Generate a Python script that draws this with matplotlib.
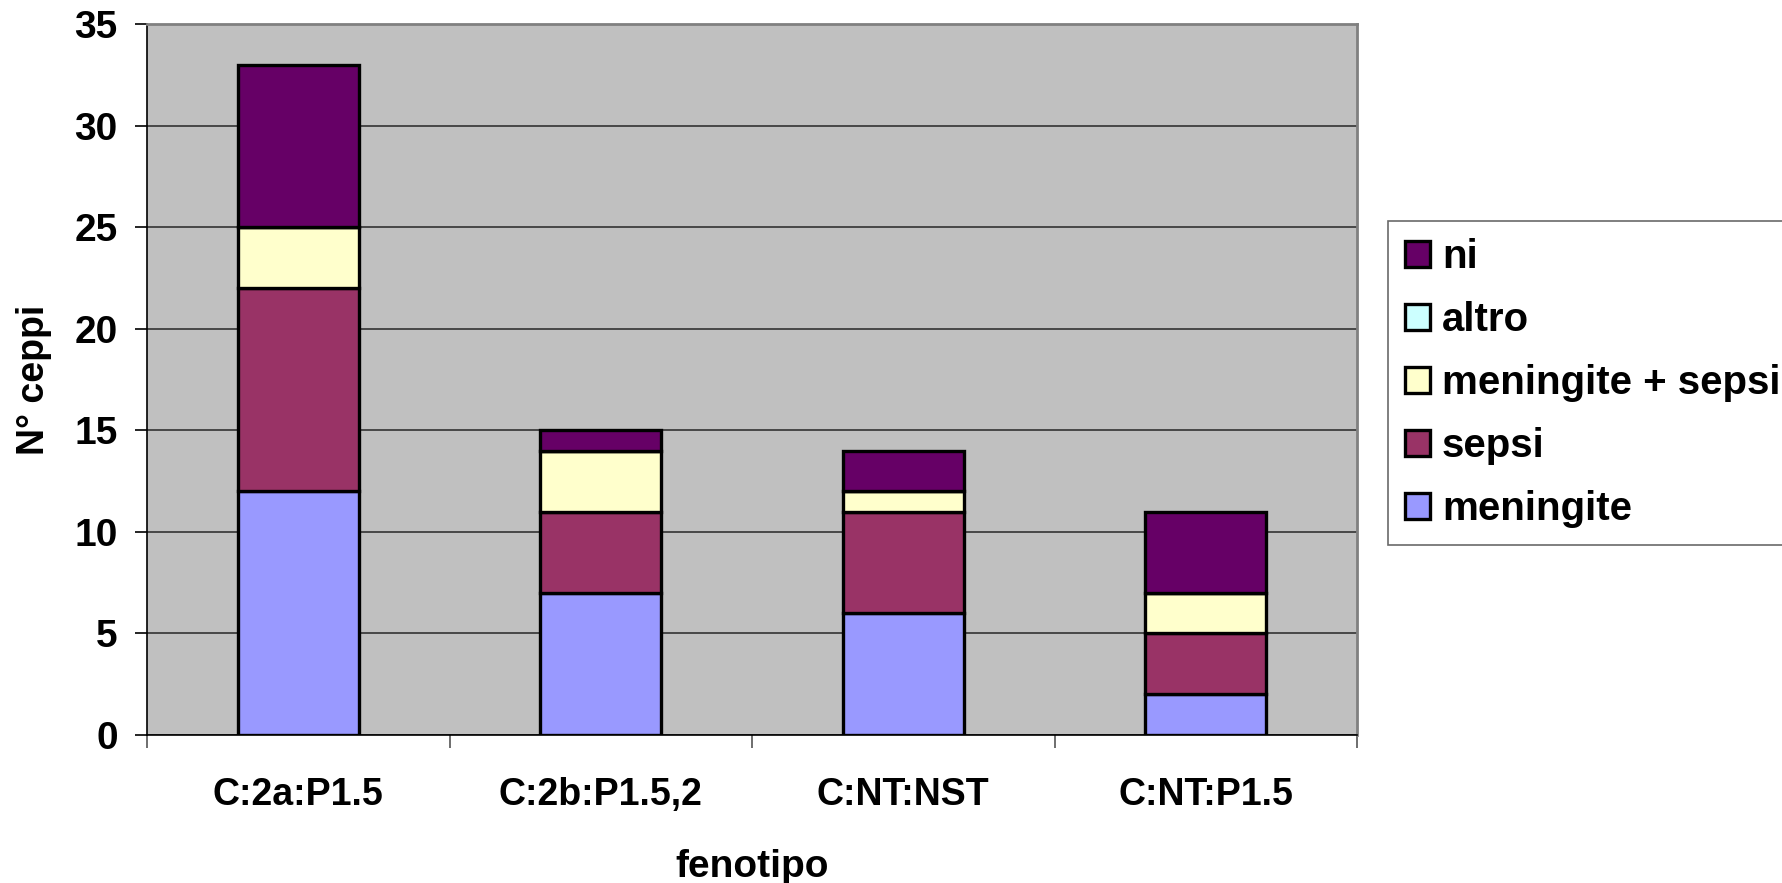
import matplotlib
matplotlib.use("Agg")
import matplotlib.pyplot as plt
import numpy as np

plt.rcParams['font.family'] = ['Liberation Sans', 'DejaVu Sans']
plt.rcParams['font.weight'] = 'bold'

# counts per phenotype, stacked bottom to top
fenotipi = ['C:2a:P1.5', 'C:2b:P1.5,2', 'C:NT:NST', 'C:NT:P1.5']
meningite = [12, 7, 6, 2]
sepsi = [10, 4, 5, 3]
meningite_sepsi = [3, 3, 1, 2]
altro = [0, 0, 0, 0]
ni = [8, 1, 2, 4]

serie = [
    ('meningite', meningite, '#9999FF'),
    ('sepsi', sepsi, '#993366'),
    ('meningite + sepsi', meningite_sepsi, '#FFFFCC'),
    ('altro', altro, '#CCFFFF'),
    ('ni', ni, '#660066'),
]

fig = plt.figure(figsize=(17.82, 8.83), dpi=100)
ax = fig.add_axes([147 / 1782, 1 - 735 / 883, 1210 / 1782, 711 / 883])
ax.set_facecolor('#C0C0C0')

x = np.arange(len(fenotipi))
bottom = np.zeros(len(fenotipi))
handles = []
for nome, valori, colore in serie:
    b = ax.bar(x, valori, width=0.4, bottom=bottom, color=colore,
               edgecolor='black', linewidth=2.4, label=nome, zorder=3)
    handles.append(b)
    bottom += np.array(valori)

ax.set_ylim(0, 35)
ax.set_xlim(-0.5, 3.5)
ax.set_yticks(np.arange(0, 36, 5))
ax.yaxis.grid(True, color='#333333', linewidth=1.2, zorder=1)
ax.set_axisbelow(True)

# category labels in the middle, tick marks between categories
ax.set_xticks(x)
ax.set_xticklabels(fenotipi)
ax.set_xticks(np.arange(-0.5, 4, 1), minor=True)
ax.tick_params(axis='x', which='major', length=0, pad=30, labelsize=27)
ax.tick_params(axis='x', which='minor', length=9, width=1.2, color='#555555', direction='out')
ax.tick_params(axis='y', length=9, width=1.2, pad=12, labelsize=28, direction='out')

for s in ['top', 'right']:
    ax.spines[s].set_color('#808080')
    ax.spines[s].set_linewidth(2)
ax.spines['left'].set_color('black')
ax.spines['bottom'].set_color('black')
ax.spines['left'].set_linewidth(1.2)
ax.spines['bottom'].set_linewidth(1.2)

ax.set_ylabel('N° ceppi', fontsize=27, fontweight='bold', labelpad=16)
ax.set_xlabel('fenotipo', fontsize=28, fontweight='bold', labelpad=26)

leg = fig.legend(handles[::-1], [s[0] for s in serie][::-1],
                 loc='upper left', bbox_to_anchor=(1388 / 1782, 1 - 221 / 883),
                 fontsize=29, frameon=True, fancybox=False, edgecolor='#444444',
                 handlelength=0.62, handleheight=0.62, handletextpad=0.3,
                 labelspacing=0.62, borderpad=0.42, borderaxespad=0)
leg.get_frame().set_linewidth(1.2)
for t in leg.get_texts():
    t.set_fontweight('bold')

fig.savefig('out.png', dpi=100)
